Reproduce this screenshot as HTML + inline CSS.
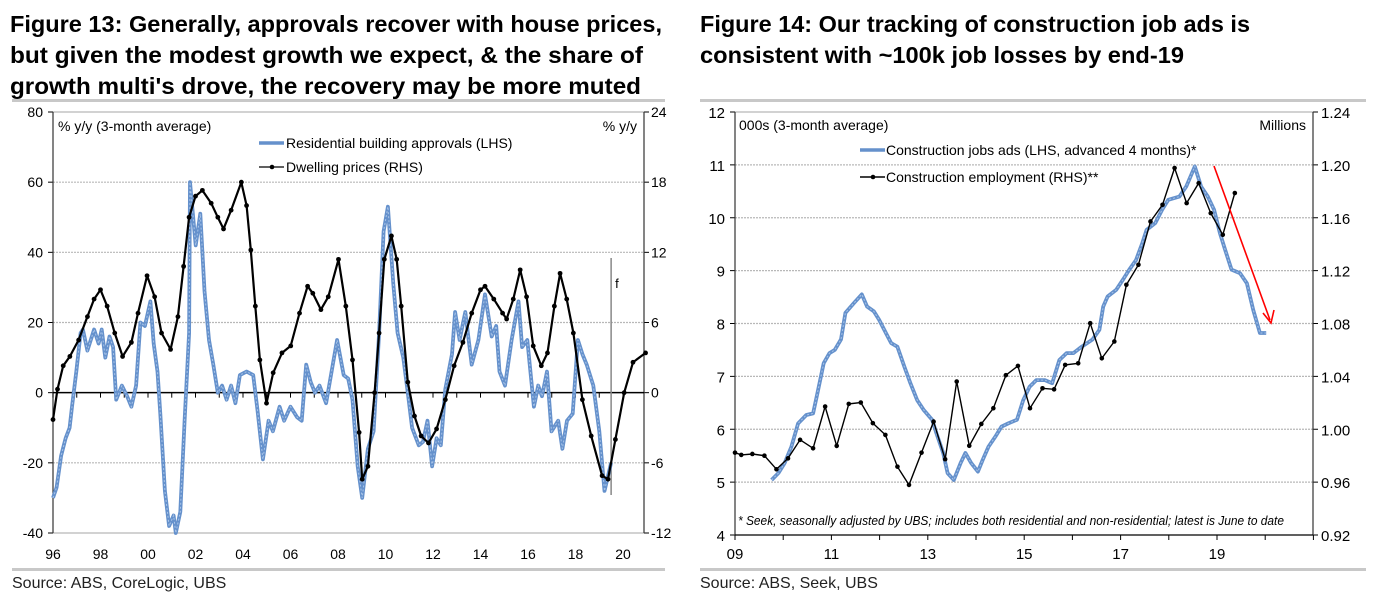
<!DOCTYPE html>
<html><head><meta charset="utf-8"><style>
html,body{margin:0;padding:0;background:#fff;}
svg{display:block;font-family:"Liberation Sans",Arial,sans-serif;}
</style></head><body>
<svg id="root" width="1374" height="608" viewBox="0 0 1374 608">
<g font-weight="bold" font-size="23" fill="#000">
<text x="10" y="32" textLength="652" lengthAdjust="spacingAndGlyphs">Figure 13: Generally, approvals recover with house prices,</text>
<text x="10" y="63" textLength="633" lengthAdjust="spacingAndGlyphs">but given the modest growth we expect, &amp; the share of</text>
<text x="10" y="94" textLength="631" lengthAdjust="spacingAndGlyphs">growth multi's drove, the recovery may be more muted</text>
<text x="700" y="32" textLength="550" lengthAdjust="spacingAndGlyphs">Figure 14: Our tracking of construction job ads is</text>
<text x="700" y="63" textLength="484" lengthAdjust="spacingAndGlyphs">consistent with ~100k job losses by end-19</text>
</g>
<rect x="12" y="99" width="653" height="3" fill="#c8c8c8"/>
<rect x="700" y="99" width="666" height="3" fill="#c8c8c8"/>
<rect x="12" y="568" width="653" height="3" fill="#c8c8c8"/>
<rect x="700" y="568" width="666" height="3" fill="#c8c8c8"/>
<text x="12" y="588" font-size="16" fill="#222">Source:  ABS, CoreLogic, UBS</text>
<text x="700" y="588" font-size="16" fill="#222">Source:  ABS, Seek, UBS</text>
<g id="c1"></g>
<g id="c2"></g>
</svg>
<script>
// ---------- Figure 13 data ----------
const apprYears=[1996.0,1996.15,1996.34,1996.53,1996.7,1996.8,1996.98,1997.16,1997.26,1997.45,1997.73,1997.92,1998.05,1998.2,1998.38,1998.53,1998.66,1998.9,1999.12,1999.3,1999.5,1999.68,1999.87,2000.1,2000.24,2000.4,2000.52,2000.71,2000.89,2001.08,2001.17,2001.36,2001.54,2001.73,2001.77,2002.01,2002.2,2002.38,2002.57,2002.75,2002.94,2003.12,2003.31,2003.5,2003.68,2003.87,2004.15,2004.43,2004.61,2004.84,2005.08,2005.26,2005.54,2005.73,2006.0,2006.28,2006.47,2006.66,2006.85,2007.03,2007.22,2007.5,2007.78,2007.96,2008.24,2008.43,2008.61,2008.83,2009.02,2009.26,2009.5,2009.73,2009.92,2010.1,2010.33,2010.51,2010.75,2010.94,2011.12,2011.4,2011.58,2011.77,2011.96,2012.15,2012.33,2012.52,2012.8,2012.93,2013.12,2013.36,2013.63,2013.91,2014.19,2014.47,2014.66,2014.8,2015.03,2015.31,2015.6,2015.75,2015.97,2016.25,2016.43,2016.59,2016.8,2016.99,2017.27,2017.45,2017.64,2017.88,2018.1,2018.29,2018.47,2018.75,2019.0,2019.22,2019.5];
const apprVals=[-30,-27,-18,-13,-10,-4,6,17,18,12,18,14,18,10,16,13,-2,2,-1,-4,2,20,19,26,14,6,-6,-28,-38,-35,-40,-34,-8,17,60,42,51,29,15,8,0,2,-2,2,-3,5,6,5,-5,-19,-8,-11,-4,-8,-4,-7,-8,8,3,0,2,-3,8,15,5,4,-2,-21,-30,-16,-11,17,46,53,31,17,10,0,-10,-15,-14,-8,-21,-13,-15,1,11,23,15,23,8,15,28,16,19,6,2,15,26,13,15,-4,2,-1,6,-11,-8,-16,-8,-6,15,11,8,2,-11,-28,-20,-22];
const priceYears=[1996.0,1996.19,1996.43,1996.71,1997.08,1997.45,1997.73,1998.0,1998.28,1998.6,1998.93,1999.3,1999.58,1999.96,2000.28,2000.57,2000.95,2001.26,2001.5,2001.73,2002.0,2002.29,2002.66,2002.94,2003.18,2003.5,2003.93,2004.15,2004.33,2004.52,2004.71,2004.99,2005.27,2005.64,2006.01,2006.38,2006.72,2006.94,2007.28,2007.59,2008.02,2008.33,2008.61,2008.89,2009.02,2009.26,2009.54,2009.73,2009.95,2010.25,2010.47,2010.66,2010.94,2011.22,2011.5,2011.81,2012.15,2012.52,2012.89,2013.26,2013.63,2014.0,2014.19,2014.56,2014.93,2015.1,2015.38,2015.67,2015.94,2016.22,2016.56,2016.82,2017.11,2017.35,2017.63,2017.91,2018.29,2018.66,2019.12,2019.37,2019.68,2020.05,2020.42,2020.95];
const priceVals=[-2.3,0.3,2.3,3.1,4.5,6.5,8,8.8,7.4,5.1,3.1,4.3,6.8,10,8.2,5.1,3.7,6.5,10.8,15,16.8,17.3,16.2,15,14,15.6,18,16,12.2,7.4,2.8,-0.9,1.7,3.4,4,6.8,9.1,8.5,7.1,8.2,11.4,7.4,2.8,-3.4,-7.4,-6.3,0,5.1,11.4,13.4,11.4,7.4,0.9,-2,-3.7,-4.3,-3.1,-0.6,2.3,4.3,6.8,8.8,9.1,8,6.8,6.3,8,10.5,8.2,4,2.3,3.4,7.4,10.2,8,5.1,-0.6,-3.7,-7.1,-7.4,-4,0,2.6,3.4];
const f13LeftTicks=[80,60,40,20,0,-20,-40];
const f13RightTicks=[24,18,12,6,0,-6,-12];
const f13XLabels=["96","98","00","02","04","06","08","10","12","14","16","18","20"];
// ---------- Figure 14 data ----------
const adsYears=[2009.76,2009.9,2010.03,2010.17,2010.31,2010.48,2010.62,2010.71,2010.84,2010.96,2011.07,2011.2,2011.29,2011.47,2011.63,2011.74,2011.88,2011.99,2012.13,2012.24,2012.37,2012.51,2012.64,2012.78,2012.91,2013.09,2013.18,2013.32,2013.41,2013.54,2013.68,2013.78,2013.9,2014.04,2014.14,2014.26,2014.4,2014.53,2014.67,2014.85,2014.98,2015.11,2015.25,2015.43,2015.58,2015.73,2015.88,2016.02,2016.19,2016.42,2016.56,2016.64,2016.73,2016.91,2017.05,2017.18,2017.32,2017.45,2017.54,2017.72,2017.86,2017.99,2018.22,2018.36,2018.54,2018.67,2018.81,2018.94,2019.06,2019.17,2019.3,2019.48,2019.62,2019.75,2019.89,2020.02];
const adsVals=[5.04,5.17,5.36,5.67,6.11,6.27,6.3,6.68,7.25,7.44,7.5,7.7,8.2,8.39,8.55,8.32,8.23,8.07,7.82,7.63,7.56,7.19,6.87,6.55,6.37,6.18,5.92,5.55,5.17,5.04,5.36,5.55,5.36,5.2,5.42,5.67,5.86,6.05,6.11,6.18,6.55,6.8,6.93,6.93,6.87,7.31,7.44,7.44,7.56,7.7,7.88,8.32,8.51,8.64,8.83,9.02,9.2,9.52,9.77,9.9,10.15,10.34,10.4,10.59,10.97,10.59,10.4,10.15,9.71,9.39,9.02,8.95,8.76,8.26,7.82,7.82];
const empYears=[2009.0,2009.13,2009.36,2009.61,2009.86,2010.1,2010.35,2010.62,2010.87,2011.11,2011.36,2011.61,2011.86,2012.12,2012.37,2012.61,2012.87,2013.12,2013.36,2013.6,2013.86,2014.11,2014.36,2014.62,2014.87,2015.12,2015.38,2015.62,2015.85,2016.12,2016.37,2016.61,2016.87,2017.12,2017.37,2017.62,2017.87,2018.12,2018.37,2018.62,2018.87,2019.12,2019.37];
const empVals=[0.9823,0.9806,0.9813,0.98,0.9697,0.978,0.992,0.9856,1.0172,0.9874,1.0192,1.0202,1.0046,0.9957,0.9717,0.9579,0.9823,1.0058,0.9773,1.0361,0.9875,1.004,1.0159,1.0409,1.0479,1.0159,1.031,1.0302,1.0487,1.0499,1.0802,1.0537,1.0664,1.1093,1.1244,1.1572,1.1698,1.1976,1.1711,1.1862,1.1635,1.1471,1.1787];
const f14LeftTicks=[12,11,10,9,8,7,6,5,4];
const f14RightTicks=["1.24","1.20","1.16","1.12","1.08","1.04","1.00","0.96","0.92"];
const f14XLabels=["09","11","13","15","17","19"];

const NS="http://www.w3.org/2000/svg";
function mk(parent,tag,attrs,text){const e=document.createElementNS(NS,tag);for(const k in attrs)e.setAttribute(k,attrs[k]);if(text!==undefined)e.textContent=text;parent.appendChild(e);return e;}
function pathD(xs,ys,fx,fy){return xs.map((x,i)=>(i?'L':'M')+fx(x).toFixed(1)+','+fy(ys[i]).toFixed(1)).join('');}

// ===== Figure 13 =====
(function(){
const g=document.getElementById('c1');
const L=53,R=644,T=112,B=533;
const x=y=>L+(y-1996)*23.75;
const yl=v=>T+(80-v)*(B-T)/120;
const yr=v=>T+(24-v)*(B-T)/36;
f13LeftTicks.forEach(v=>{
  const yy=yl(v);
  if(v!==0){const ln=mk(g,'line',{x1:L,x2:R,y1:yy,y2:yy,stroke:'#b8b8b8','stroke-width':1.2,'stroke-dasharray':(v===80||v===-40)?'':'2,1'});
  
  }
  mk(g,'line',{x1:L-5,x2:L,y1:yy,y2:yy,stroke:'#000'});
  const t=mk(g,'text',{x:L-10,y:yy+5,'text-anchor':'end','font-size':14,fill:'#000'},String(v));
  
  
});
f13RightTicks.forEach(v=>{
  const yy=yr(v);
  mk(g,'line',{x1:R,x2:R+5,y1:yy,y2:yy,stroke:'#000'});
  const t=mk(g,'text',{x:R+7,y:yy+5,'font-size':14,fill:'#000'},String(v));
  
  
});
mk(g,'line',{x1:L,x2:L,y1:T,y2:B,stroke:'#333','stroke-width':1.2});
mk(g,'line',{x1:R,x2:R,y1:T,y2:B,stroke:'#333','stroke-width':1.2});
const z=yl(0);
const zl=mk(g,'line',{x1:L,x2:R,y1:z,y2:z,stroke:'#000','stroke-width':1.5});


for(let yr2=1996;yr2<=2020;yr2++){mk(g,'line',{x1:x(yr2),x2:x(yr2),y1:z,y2:z+5,stroke:'#000'});}
f13XLabels.forEach((s,i)=>{
  const t=mk(g,'text',{x:x(1996+2*i),y:559,'text-anchor':'middle','font-size':14,fill:'#000'},s);
  
  
});
const u1=mk(g,'text',{x:58,y:131,'font-size':14,fill:'#000'},'% y/y (3-month average)');


const u2=mk(g,'text',{x:637,y:131,'text-anchor':'end','font-size':14,fill:'#000'},'% y/y');


const fx=x(2019.5);
const fl=mk(g,'line',{x1:fx,x2:fx,y1:258,y2:495,stroke:'#888','stroke-width':1.5});


mk(g,'text',{x:fx+4,y:288,'font-size':13,fill:'#000'},'f');
const p1=mk(g,'path',{d:pathD(apprYears,apprVals,x,yl),fill:'none',stroke:'#6591cc','stroke-width':3.8,'stroke-linejoin':'round'});


mk(g,'path',{d:pathD(apprYears,apprVals,x,yl),fill:'none',stroke:'#a8c4e8','stroke-width':1,'stroke-dasharray':'2,2'});
const p2=mk(g,'path',{d:pathD(priceYears,priceVals,x,yr),fill:'none',stroke:'#000','stroke-width':2.2,'stroke-linejoin':'round'});


priceYears.forEach((yy,i)=>{
  const c=mk(g,'circle',{cx:x(yy),cy:yr(priceVals[i]),r:2.4,fill:'#000'});
  
  
});
const lg=mk(g,'g',{});


mk(lg,'line',{x1:259,x2:284,y1:143,y2:143,stroke:'#6591cc','stroke-width':3.5});
mk(lg,'text',{x:286,y:148,'font-size':14,fill:'#000'},'Residential building approvals (LHS)');
mk(lg,'line',{x1:259,x2:284,y1:167,y2:167,stroke:'#000','stroke-width':1.3});
mk(lg,'circle',{cx:272,cy:167,r:2.3,fill:'#000'});
mk(lg,'text',{x:286,y:172,'font-size':14,fill:'#000'},'Dwelling prices (RHS)');
})();

// ===== Figure 14 =====
(function(){
const g=document.getElementById('c2');
const L=735,R=1313,T=112,B=535;
const x=y=>L+(y-2009)*48.2;
const yl=v=>T+(12-v)*(B-T)/8;
const yr=v=>T+(1.24-v)*(B-T)/0.32;
f14LeftTicks.forEach((v,i)=>{
  const yy=yl(v);
  if(v!==4){const ln=mk(g,'line',{x1:L,x2:R,y1:yy,y2:yy,stroke:'#b8b8b8','stroke-width':1.2,'stroke-dasharray':v===12?'':'2,1'});
  
  }
  mk(g,'line',{x1:L-5,x2:L,y1:yy,y2:yy,stroke:'#000'});
  const t=mk(g,'text',{x:L-10,y:yy+6,'text-anchor':'end','font-size':15,fill:'#000'},String(v));
  
  
  mk(g,'line',{x1:R,x2:R+5,y1:yy,y2:yy,stroke:'#000'});
  const t2=mk(g,'text',{x:R+8,y:yy+6,'font-size':15,fill:'#000'},f14RightTicks[i]);
  
  
});
mk(g,'line',{x1:L,x2:L,y1:T,y2:B,stroke:'#333','stroke-width':1.2});
mk(g,'line',{x1:R,x2:R,y1:T,y2:B,stroke:'#333','stroke-width':1.2});
mk(g,'line',{x1:L,x2:R,y1:B,y2:B,stroke:'#000','stroke-width':1.3});
for(let yy=2009;yy<=2021;yy++){mk(g,'line',{x1:x(yy),x2:x(yy),y1:B,y2:B+5,stroke:'#000'});}
f14XLabels.forEach((s,i)=>{
  const t=mk(g,'text',{x:x(2009+2*i),y:559,'text-anchor':'middle','font-size':15,fill:'#000'},s);
  
  
});
const u1=mk(g,'text',{x:739,y:130,'font-size':14,fill:'#000'},'000s (3-month average)');


const u2=mk(g,'text',{x:1306,y:130,'text-anchor':'end','font-size':14,fill:'#000'},'Millions');


const fn=mk(g,'text',{x:738,y:525,'font-size':13,'font-style':'italic',fill:'#000',textLength:546,lengthAdjust:'spacingAndGlyphs'},'* Seek, seasonally adjusted by UBS; includes both residential and non-residential; latest is June to date');


const p1=mk(g,'path',{d:pathD(adsYears,adsVals,x,yl),fill:'none',stroke:'#6591cc','stroke-width':3.8,'stroke-linejoin':'round'});


mk(g,'path',{d:pathD(adsYears,adsVals,x,yl),fill:'none',stroke:'#a8c4e8','stroke-width':1,'stroke-dasharray':'2,2'});
const p2=mk(g,'path',{d:pathD(empYears,empVals,x,yr),fill:'none',stroke:'#000','stroke-width':1.4});


empYears.forEach((yy,i)=>{
  const c=mk(g,'circle',{cx:x(yy),cy:yr(empVals[i]),r:2.3,fill:'#000'});
  
  
});
const ar=mk(g,'g',{});


mk(ar,'line',{x1:1214,y1:166,x2:1270,y2:320,stroke:'#ff0000','stroke-width':1.6});
mk(ar,'path',{d:'M1263,313 L1271,323 L1274,310',fill:'none',stroke:'#ff0000','stroke-width':1.6});
const lg=mk(g,'g',{});


mk(lg,'line',{x1:860,x2:885,y1:150,y2:150,stroke:'#6591cc','stroke-width':3.5});
mk(lg,'text',{x:886,y:155,'font-size':14,fill:'#000'},'Construction jobs ads (LHS, advanced 4 months)*');
mk(lg,'line',{x1:860,x2:885,y1:177,y2:177,stroke:'#000','stroke-width':1.4});
mk(lg,'circle',{cx:873,cy:177,r:2.3,fill:'#000'});
mk(lg,'text',{x:886,y:182,'font-size':14,fill:'#000'},'Construction employment (RHS)**');
})();
</script>
</body></html>
